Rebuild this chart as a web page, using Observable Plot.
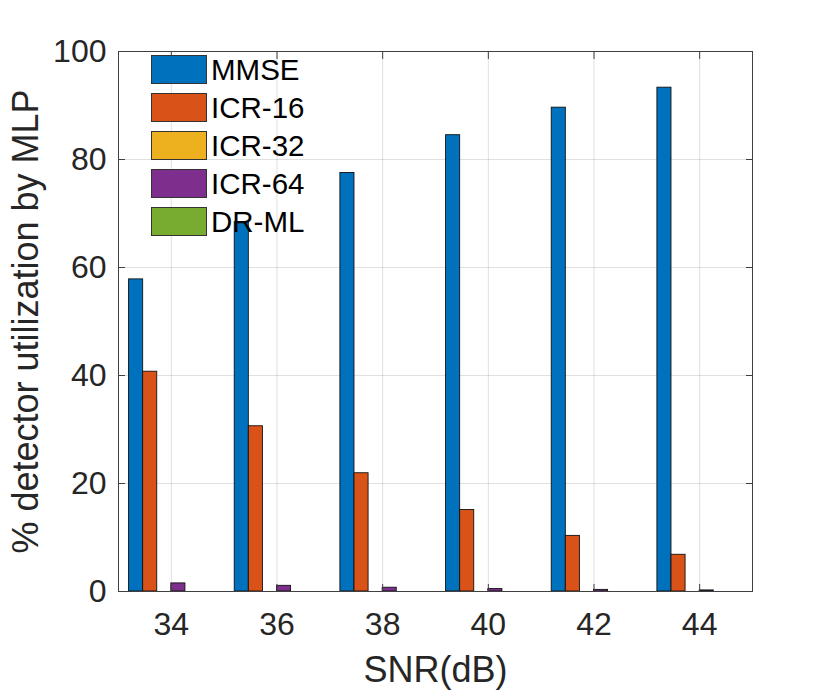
<!DOCTYPE html>
<html><head><meta charset="utf-8">
<script src="https://cdn.jsdelivr.net/npm/d3@7"></script>
<script src="https://cdn.jsdelivr.net/npm/@observablehq/plot@0.6"></script>
<style>
body{margin:0;background:#fff;font-family:"Liberation Sans",Arial,Helvetica,sans-serif}
#wrap{position:relative;width:830px;height:692px}
#legend{position:absolute;left:151px;top:55px}
.item{display:flex;align-items:center;height:29px;margin-bottom:9px}
.sw{width:54px;height:27px;border:1px solid #333}
.lb{margin-left:4px;font-size:29.5px;color:#000;line-height:29px}
</style></head><body><div id="wrap"><div id="legend"></div></div>
<script>
const snr = [34, 36, 38, 40, 42, 44];
const seriesNames = ["MMSE", "ICR-16", "ICR-32", "ICR-64", "DR-ML"];
const seriesColors = ["#0072BD", "#D95319", "#EDB120", "#7E2F8E", "#77AC30"];
const mmse  = [57.8, 68.4, 77.5, 84.5, 89.6, 93.3];
const icr16 = [40.7, 30.6, 21.9, 15.1, 10.3, 6.8];
const icr32 = [0, 0, 0, 0, 0, 0];
const icr64 = [1.5, 1.05, 0.7, 0.45, 0.3, 0.2];
const drml  = [0, 0, 0, 0, 0, 0];
const yTicks = [0, 20, 40, 60, 80, 100];
const xLabel = "SNR(dB)";
const yLabel = "% detector utilization by MLP";

const seriesValues = [mmse, icr16, icr32, icr64, drml];
const slots = 6;              // grouped-bar slots (MATLAB layout, sixth slot empty)
const groupWidth = 0.8 * 2;   // fraction of the SNR step
const barW = groupWidth / slots;

const rows = [];
seriesValues.forEach((vals, i) => vals.forEach((v, j) =>
  rows.push({snr: snr[j], series: seriesNames[i], value: v, slot: i})));

const font = "'Liberation Sans', Arial, Helvetica, sans-serif";
const chart = Plot.plot({
  width: 830, height: 692,
  marginLeft: 118, marginRight: 78, marginTop: 51, marginBottom: 101,
  style: {fontFamily: font, fontSize: "32px", color: "#262626", background: "white"},
  x: {type: "linear", domain: [33, 45], axis: null},
  y: {domain: [0, 100], axis: null},
  color: {domain: seriesNames, range: seriesColors},
  marks: [
    Plot.gridY(yTicks, {stroke: "#000", strokeOpacity: 0.12}),
    Plot.gridX(snr, {stroke: "#000", strokeOpacity: 0.12}),
    Plot.rectY(rows, {
      x1: d => d.snr + (d.slot - slots / 2) * barW,
      x2: d => d.snr + (d.slot - slots / 2 + 1) * barW,
      y: "value", fill: "series", stroke: "#111", strokeWidth: 0.9
    }),
    Plot.frame({stroke: "#404040", strokeWidth: 1}),
    Plot.axisY(yTicks, {anchor: "left", tickSize: 0, tickPadding: 12, fontSize: 32, fill: "#262626", label: null}),
    Plot.axisY(yTicks, {anchor: "left", tickSize: -7, text: null, stroke: "#404040", label: null}),
    Plot.axisY(yTicks, {anchor: "right", tickSize: -7, text: null, stroke: "#404040", label: null}),
    Plot.axisX(snr, {anchor: "bottom", tickSize: 0, tickPadding: 21, fontSize: 32, fill: "#262626", label: null}),
    Plot.axisX(snr, {anchor: "bottom", tickSize: -7, text: null, stroke: "#404040", label: null}),
    Plot.axisX(snr, {anchor: "top", tickSize: -7, text: null, stroke: "#404040", label: null}),
    Plot.text([xLabel], {frameAnchor: "bottom", lineAnchor: "middle", textAnchor: "middle", dy: 79, fontSize: 36, fill: "#262626"}),
    Plot.text([yLabel], {frameAnchor: "left", lineAnchor: "middle", textAnchor: "middle", dx: -92, rotate: -90, fontSize: 36, fill: "#262626"})
  ]
});
const wrap = document.getElementById("wrap");
wrap.insertBefore(chart, wrap.firstChild);
chart.style.position = "absolute"; chart.style.left = "0"; chart.style.top = "0";

const legend = document.getElementById("legend");
seriesNames.forEach((name, i) => {
  const item = document.createElement("div"); item.className = "item";
  const sw = document.createElement("div"); sw.className = "sw"; sw.style.background = seriesColors[i];
  const lb = document.createElement("div"); lb.className = "lb"; lb.textContent = name;
  item.appendChild(sw); item.appendChild(lb); legend.appendChild(item);
});
</script></body></html>
